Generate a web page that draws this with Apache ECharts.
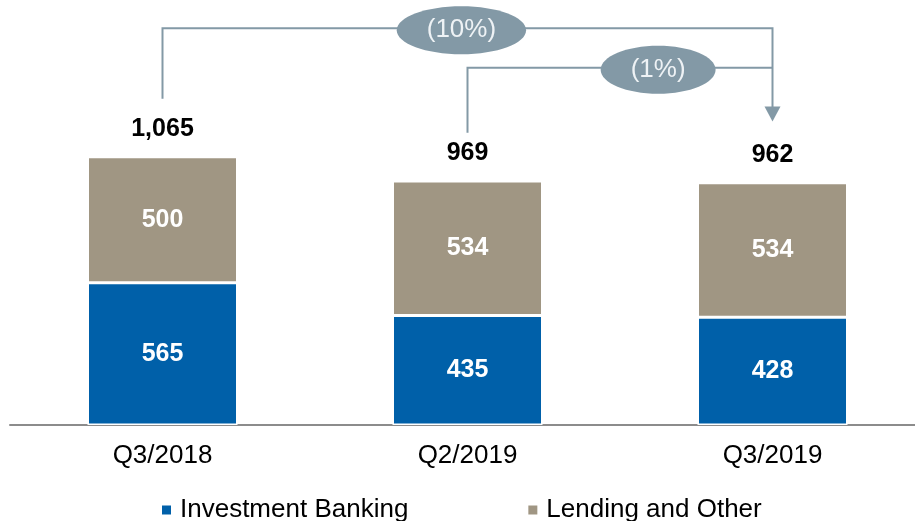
<!doctype html>
<html>
<head>
<meta charset="utf-8">
<title>Revenue</title>
<style>
	html, body { margin: 0; padding: 0; background: #fff; overflow: hidden; }
	#main { width: 925px; height: 521px; }
</style>
<script src="https://cdn.jsdelivr.net/npm/echarts@6/dist/echarts.min.js"></script>
</head>
<body>
<div id="main"></div>
<script>
	// 数据
	var quarters = ['Q3/2018', 'Q2/2019', 'Q3/2019'];
	var investmentBanking = [565, 435, 428];
	var lendingOther = [500, 534, 534];

	// 变化标注: 从哪个季度到哪个季度
	var changeFrom = [0, 1];
	var changeTo = [2, 2];
	var changeText = ['(10%)', '(1%)'];

	var font = '"Liberation Sans", Arial, sans-serif';
	var lineColor = '#8399A6';

	// 标注的形状 (数值坐标)
	var bracketLevel = [1575, 1418];
	var bracketStartBottom = [1295, 1160];
	var bracketEndBottom = [1205, 1418];
	var bracketLabelPos = [0.49, 0.625];
	var bracketArrow = [true, false];

	var ctx = document.createElement('canvas').getContext('2d');
	ctx.font = '26px ' + font;

	function fmt(v) {
		return v.toString().replace(/\B(?=(\d{3})+(?!\d))/g, ',');
	}

	var myChart = echarts.init(document.getElementById('main'));

	var option = {
		animation: false,
		grid: { left: 10, right: 0, top: 22, bottom: 96 },
		legend: {
			data: ['Investment Banking', 'Lending and Other'],
			left: 155,
			top: 492,
			icon: 'rect',
			itemWidth: 11,
			itemHeight: 11,
			itemGap: 118,
			textStyle: { fontFamily: font, fontSize: 26, color: '#000', padding: [0, 0, 0, 3] }
		},
		xAxis: {
			type: 'category',
			data: quarters,
			axisTick: { show: false },
			axisLine: { lineStyle: { color: '#8c8c8c', width: 2 } },
			axisLabel: { fontFamily: font, fontSize: 26, color: '#000', margin: 18 }
		},
		yAxis: {
			type: 'value',
			min: 0,
			max: 1600,
			show: false,
			splitLine: { show: false }
		},
		series: [
			{
				name: 'Investment Banking',
				type: 'bar',
				stack: 'rev',
				barWidth: 150,
				data: investmentBanking,
				itemStyle: { color: '#0060A9', borderColor: '#fff', borderWidth: 1.5 },
				label: { show: true, position: 'inside', color: '#fff', fontFamily: font, fontSize: 25, fontWeight: 'bold' }
			},
			{
				name: 'Lending and Other',
				type: 'bar',
				stack: 'rev',
				barWidth: 150,
				data: lendingOther,
				itemStyle: { color: '#A09683', borderColor: '#fff', borderWidth: 1.5 },
				label: { show: true, position: 'inside', color: '#fff', fontFamily: font, fontSize: 25, fontWeight: 'bold' }
			},
			{
				// 合计标签
				name: 'total',
				type: 'bar',
				stack: 'rev',
				barWidth: 150,
				data: quarters.map(function () { return 0; }),
				itemStyle: { color: 'transparent' },
				label: {
					show: true,
					position: 'top',
					distance: 15,
					color: '#000',
					fontFamily: font,
					fontSize: 25,
					fontWeight: 'bold',
					formatter: function (p) {
						return fmt(investmentBanking[p.dataIndex] + lendingOther[p.dataIndex]);
					}
				}
			},
			{
				name: 'change',
				type: 'custom',
				silent: true,
				clip: false,
				z: 5,
				data: changeFrom.map(function (f, i) { return [f, changeTo[i]]; }),
				renderItem: function (params, api) {
					var i = params.dataIndex;
					var s0 = api.coord([api.value(0), bracketStartBottom[i]]);
					var s1 = api.coord([api.value(0), bracketLevel[i]]);
					var e1 = api.coord([api.value(1), bracketLevel[i]]);
					var e0 = api.coord([api.value(1), bracketEndBottom[i]]);
					var children = [];
					var pts = [s0, s1, e1];
					if (bracketArrow[i]) pts.push([e0[0], e0[1] - 14]);
					children.push({
						type: 'polyline',
						shape: { points: pts },
						style: { stroke: lineColor, lineWidth: 2, fill: null }
					});
					if (bracketArrow[i]) {
						children.push({
							type: 'polygon',
							shape: { points: [[e0[0] - 8, e0[1] - 15], [e0[0] + 8, e0[1] - 15], [e0[0], e0[1]]] },
							style: { fill: lineColor }
						});
					}
					var cx = s1[0] + (e1[0] - s1[0]) * bracketLabelPos[i];
					var cy = s1[1] + 2;
					var rx = ctx.measureText(changeText[i]).width / 2 + 30;
					children.push({
						type: 'ellipse',
						shape: { cx: cx, cy: cy, rx: rx, ry: 24 },
						style: { fill: lineColor }
					});
					children.push({
						type: 'text',
						x: cx,
						y: cy,
						style: {
							text: changeText[i],
							fill: '#EEF2F5',
							font: '26px ' + font,
							align: 'center',
							verticalAlign: 'middle'
						}
					});
					return { type: 'group', children: children };
				}
			}
		]
	};
	myChart.setOption(option);
</script>
</body>
</html>
